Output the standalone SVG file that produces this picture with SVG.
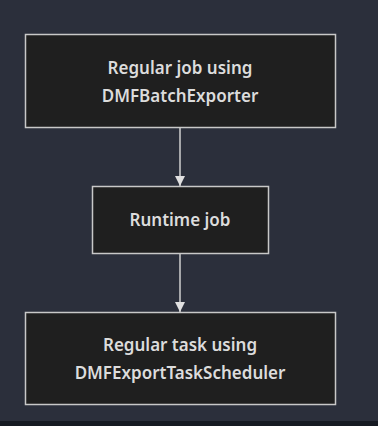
<svg xmlns="http://www.w3.org/2000/svg" width="378" height="426" viewBox="0 0 378 426">
<style>
.node rect{fill:#1f1f1f;stroke:#c8c8c8;stroke-width:1.5}
.node text{fill:#dcdcdc;font-family:"Noto Sans","DejaVu Sans",sans-serif;font-size:17px;font-weight:600;text-anchor:middle}
.edge{stroke:#d0d0d0;stroke-width:1.5;fill:none}
</style>
<defs>
<marker id="arr" viewBox="0 0 10 10" refX="10" refY="5" markerWidth="10" markerHeight="10" markerUnits="userSpaceOnUse" orient="auto">
<path d="M0,0 L10,5 L0,10 z" fill="#e0e0e0"/>
</marker>
</defs>
<rect x="0" y="0" width="378" height="426" fill="#2b2f3b"/>
<rect x="0" y="421" width="378" height="5" fill="#161a22"/>
<g id="connectors">
<line class="edge" x1="180" y1="127" x2="180" y2="186" marker-end="url(#arr)"/>
<line class="edge" x1="180" y1="253" x2="180" y2="312" marker-end="url(#arr)"/>
</g>
<g id="node1" class="node">
<rect x="25.5" y="34.5" width="310" height="93"/>
<text x="180" y="74">Regular job using</text>
<text x="180" y="102">DMFBatchExporter</text>
</g>
<g id="node2" class="node">
<rect x="92.5" y="186.5" width="176" height="67"/>
<text x="180" y="226">Runtime job</text>
</g>
<g id="node3" class="node">
<rect x="25.5" y="312.5" width="310" height="92"/>
<text x="180" y="351">Regular task using</text>
<text x="180" y="379">DMFExportTaskScheduler</text>
</g>
</svg>
